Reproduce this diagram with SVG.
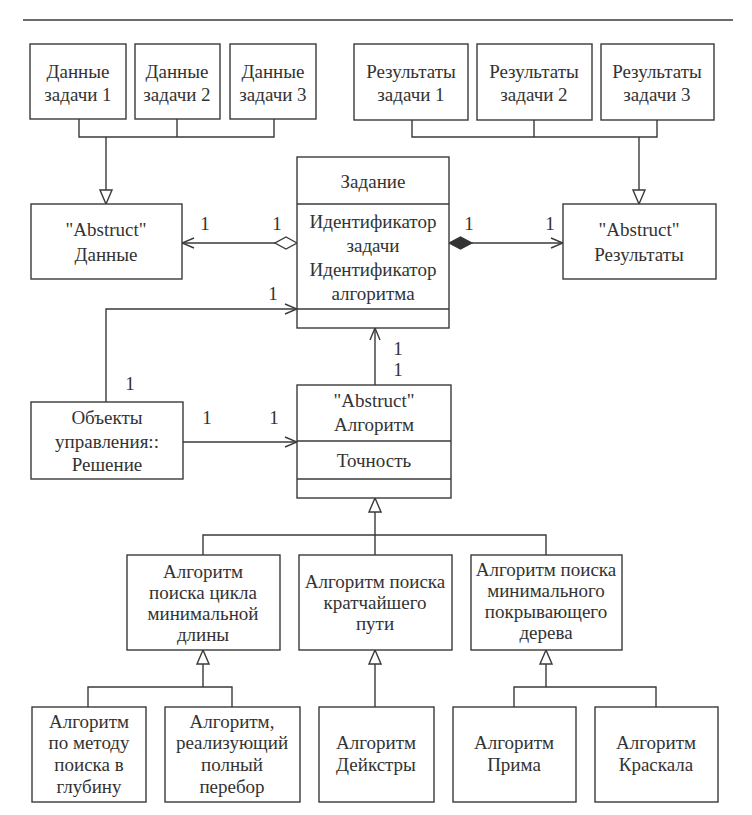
<svg xmlns="http://www.w3.org/2000/svg" width="752" height="815" viewBox="0 0 752 815">
  <style>
    .box { fill: #ffffff; stroke: #3a3a3a; stroke-width: 1.4; }
    .ln { fill: none; stroke: #3a3a3a; stroke-width: 1.4; }
    text { font-family: "Liberation Serif", "Times New Roman", serif; font-size: 19px; fill: #333333; text-anchor: middle; }
  </style>
  <defs>
    <marker id="open" viewBox="0 0 14 12" refX="13" refY="6" markerWidth="14" markerHeight="12" markerUnits="userSpaceOnUse" orient="auto">
      <path d="M1,1 L13,6 L1,11" fill="none" stroke="#3a3a3a" stroke-width="1.4"/>
    </marker>
    <marker id="tri" viewBox="0 0 16 14" refX="15" refY="7" markerWidth="16" markerHeight="14" markerUnits="userSpaceOnUse" orient="auto">
      <path d="M1,1 L15,7 L1,13 Z" fill="#ffffff" stroke="#3a3a3a" stroke-width="1.4"/>
    </marker>
  </defs>

  <rect width="752" height="815" fill="#ffffff"/>
  <line x1="23" y1="20" x2="733" y2="20" class="ln" stroke-width="1.6"/>

  <g id="connectors">
    <!-- data parts to abstract data -->
    <path class="ln" d="M79,119 V137 H274 V119 M177,119 V137"/>
    <path class="ln" d="M106,137 V204" marker-end="url(#tri)"/>
    <!-- result parts to abstract results -->
    <path class="ln" d="M412,120 V137 H657 V120 M534,120 V137"/>
    <path class="ln" d="M639,137 V204" marker-end="url(#tri)"/>
    <!-- aggregation: task -> data -->
    <path class="ln" d="M275,243 H182" marker-end="url(#open)"/>
    <path d="M297,243 L286,237 L275,243 L286,249 Z" fill="#ffffff" stroke="#3a3a3a" stroke-width="1.4"/>
    <!-- composition: task -> results -->
    <path class="ln" d="M472,243 H563" marker-end="url(#open)"/>
    <path d="M449,243 L460.5,237 L472,243 L460.5,249 Z" fill="#333333" stroke="#333333" stroke-width="1.2"/>
    <!-- solution -> task -->
    <path class="ln" d="M106,402 V309 H297" marker-end="url(#open)"/>
    <!-- solution -> algorithm -->
    <path class="ln" d="M183,442 H297" marker-end="url(#open)"/>
    <!-- algorithm -> task -->
    <path class="ln" d="M375,385 V328" marker-end="url(#open)"/>
    <!-- algorithm subclasses -->
    <path class="ln" d="M203,555 V535 H546 V555 M375,555 V535"/>
    <path class="ln" d="M375,535 V498" marker-end="url(#tri)"/>
    <!-- cycle search subclasses -->
    <path class="ln" d="M88,707 V687 H232 V707"/>
    <path class="ln" d="M203,687 V650" marker-end="url(#tri)"/>
    <!-- shortest path subclass -->
    <path class="ln" d="M375,707 V650" marker-end="url(#tri)"/>
    <!-- spanning tree subclasses -->
    <path class="ln" d="M514,707 V687 H656 V707"/>
    <path class="ln" d="M546,687 V650" marker-end="url(#tri)"/>
  </g>

  <g id="multiplicities">
    <text x="205" y="230">1</text>
    <text x="277" y="230">1</text>
    <text x="469" y="230">1</text>
    <text x="550" y="230">1</text>
    <text x="273" y="300">1</text>
    <text x="130" y="390">1</text>
    <text x="207" y="424">1</text>
    <text x="274" y="424">1</text>
    <text x="398" y="355">1</text>
    <text x="398" y="376">1</text>
  </g>

  <g id="data1">
    <rect class="box" x="30" y="44" width="96" height="75"/>
    <text x="78" y="78">Данные</text>
    <text x="78" y="101">задачи 1</text>
  </g>
  <g id="data2">
    <rect class="box" x="135" y="44" width="85" height="75"/>
    <text x="177" y="78">Данные</text>
    <text x="177" y="101">задачи 2</text>
  </g>
  <g id="data3">
    <rect class="box" x="230" y="44" width="86" height="75"/>
    <text x="273" y="78">Данные</text>
    <text x="273" y="101">задачи 3</text>
  </g>

  <g id="res1">
    <rect class="box" x="354" y="44" width="114" height="76"/>
    <text x="411" y="78">Результаты</text>
    <text x="411" y="101">задачи 1</text>
  </g>
  <g id="res2">
    <rect class="box" x="477" y="44" width="115" height="76"/>
    <text x="534" y="78">Результаты</text>
    <text x="534" y="101">задачи 2</text>
  </g>
  <g id="res3">
    <rect class="box" x="601" y="44" width="113" height="76"/>
    <text x="657" y="78">Результаты</text>
    <text x="657" y="101">задачи 3</text>
  </g>

  <g id="abstractData">
    <rect class="box" x="31" y="204" width="151" height="75"/>
    <text x="106" y="236">"Abstruct"</text>
    <text x="106" y="261">Данные</text>
  </g>

  <g id="task">
    <rect class="box" x="297" y="157" width="152" height="171"/>
    <line class="ln" x1="297" y1="204" x2="449" y2="204"/>
    <line class="ln" x1="297" y1="309" x2="449" y2="309"/>
    <text x="373" y="188">Задание</text>
    <text x="373" y="228">Идентификатор</text>
    <text x="373" y="252">задачи</text>
    <text x="373" y="276">Идентификатор</text>
    <text x="373" y="300">алгоритма</text>
  </g>

  <g id="abstractResults">
    <rect class="box" x="563" y="204" width="153" height="75"/>
    <text x="639" y="236">"Abstruct"</text>
    <text x="639" y="261">Результаты</text>
  </g>

  <g id="solution">
    <rect class="box" x="31" y="402" width="152" height="77"/>
    <text x="107" y="424">Объекты</text>
    <text x="107" y="448">управления::</text>
    <text x="107" y="471">Решение</text>
  </g>

  <g id="algorithm">
    <rect class="box" x="297" y="385" width="154" height="113"/>
    <line class="ln" x1="297" y1="441" x2="451" y2="441"/>
    <line class="ln" x1="297" y1="479" x2="451" y2="479"/>
    <text x="374" y="407">"Abstruct"</text>
    <text x="374" y="431">Алгоритм</text>
    <text x="374" y="467">Точность</text>
  </g>

  <g id="cycleSearch">
    <rect class="box" x="127" y="555" width="153" height="95"/>
    <text x="203" y="578">Алгоритм</text>
    <text x="203" y="599">поиска цикла</text>
    <text x="203" y="620">минимальной</text>
    <text x="203" y="641">длины</text>
  </g>

  <g id="shortestPath">
    <rect class="box" x="299" y="555" width="153" height="95"/>
    <text x="375" y="588">Алгоритм поиска</text>
    <text x="375" y="609">кратчайшего</text>
    <text x="375" y="630">пути</text>
  </g>

  <g id="spanningTree">
    <rect class="box" x="471" y="555" width="151" height="95"/>
    <text x="546" y="576">Алгоритм поиска</text>
    <text x="546" y="597">минимального</text>
    <text x="546" y="618">покрывающего</text>
    <text x="546" y="639">дерева</text>
  </g>

  <g id="dfs">
    <rect class="box" x="32" y="707" width="114" height="95"/>
    <text x="89" y="728">Алгоритм</text>
    <text x="89" y="749">по методу</text>
    <text x="89" y="771">поиска в</text>
    <text x="89" y="793">глубину</text>
  </g>

  <g id="bruteForce">
    <rect class="box" x="165" y="707" width="135" height="95"/>
    <text x="232" y="728">Алгоритм,</text>
    <text x="232" y="749">реализующий</text>
    <text x="232" y="771">полный</text>
    <text x="232" y="793">перебор</text>
  </g>

  <g id="dijkstra">
    <rect class="box" x="319" y="707" width="115" height="95"/>
    <text x="376" y="749">Алгоритм</text>
    <text x="376" y="771">Дейкстры</text>
  </g>

  <g id="prim">
    <rect class="box" x="453" y="707" width="123" height="95"/>
    <text x="514" y="749">Алгоритм</text>
    <text x="514" y="771">Прима</text>
  </g>

  <g id="kruskal">
    <rect class="box" x="595" y="707" width="123" height="95"/>
    <text x="656" y="749">Алгоритм</text>
    <text x="656" y="771">Краскала</text>
  </g>
</svg>
